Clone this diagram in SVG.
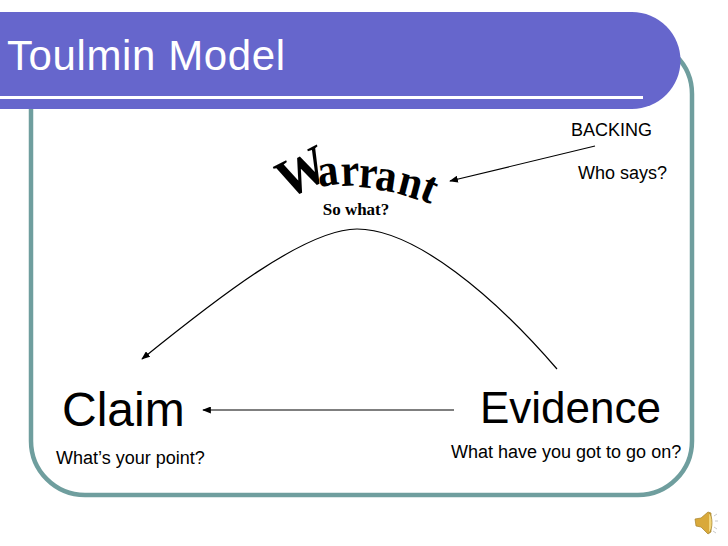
<svg xmlns="http://www.w3.org/2000/svg" width="728" height="546" viewBox="0 0 728 546">
<style>
.s{font-family:"Liberation Sans",Arial,sans-serif;fill:#000}
.small{font-size:18px}
.w{font-family:"Liberation Serif","Times New Roman",serif;font-weight:bold;fill:#000}
.c{fill:none;stroke:#000;stroke-width:1.2}
</style>
<defs>
<marker id="ah" viewBox="0 0 10 8" refX="9" refY="4" markerWidth="9" markerHeight="7" markerUnits="userSpaceOnUse" orient="auto"><path d="M0 0L10 4L0 8Z" fill="#000"/></marker>
</defs>
<rect width="728" height="546" fill="#fff"/>
<g id="frame"><rect x="31" y="40" width="661" height="455" rx="54" ry="54" fill="none" stroke="#6f9e9e" stroke-width="4.5"/></g>
<g id="title">
<path d="M0 12H632A48.500 48.500 0 0 1 632 109H0Z" fill="#6666cc"/>
<rect x="0" y="96" width="643" height="3" fill="#fff"/>
<text x="7" y="70" font-size="42" fill="#fff" style="font-family:'Liberation Sans',Arial,sans-serif" textLength="278">Toulmin Model</text>
</g>
<g id="connectors">
<path class="c" d="M557 369C495 297 415 229 357 229C305 229 215 300 142 359" marker-end="url(#ah)"/>
<path class="c" d="M595 146L450 181" marker-end="url(#ah)"/>
<path class="c" d="M454 410H203" marker-end="url(#ah)"/>
</g>
<g id="warrant">
<text class="w" transform="scale(1 1.1)" x="286 319 341 358 374 396 418" y="181.800 170 169.100 170 171.800 175.500 180" rotate="-25 -8 -2 4 9 16 24"><tspan font-size="50">W</tspan><tspan font-size="42">arrant</tspan></text>
<text class="w" x="356" y="215" font-size="17" text-anchor="middle">So what?</text>
</g>
<g id="backing">
<text class="s small" x="571" y="136">BACKING</text>
<text class="s small" x="578" y="179">Who says?</text>
</g>
<g id="claim">
<text class="s" x="62" y="426" font-size="48">Claim</text>
<text class="s small" x="56" y="464">What’s your point?</text>
</g>
<g id="evidence">
<text class="s" x="480" y="423" font-size="44">Evidence</text>
<text class="s small" x="451" y="458">What have you got to go on?</text>
</g>
<g id="speaker">
<path d="M695 519L701 518L708 512L711 513V532L708 534L701 527L696 526Z" fill="#d9a93a" stroke="#a5812a" stroke-width=".7"/>
<path d="M709 513C713 516 713 529 709 533" fill="#f2d67a" stroke="#a5812a" stroke-width=".7"/>
<path d="M714 516L717 514M715 521H718M714 527L717 529M713 531L716 533" stroke="#bbb" stroke-width=".8"/>
</g>
</svg>
